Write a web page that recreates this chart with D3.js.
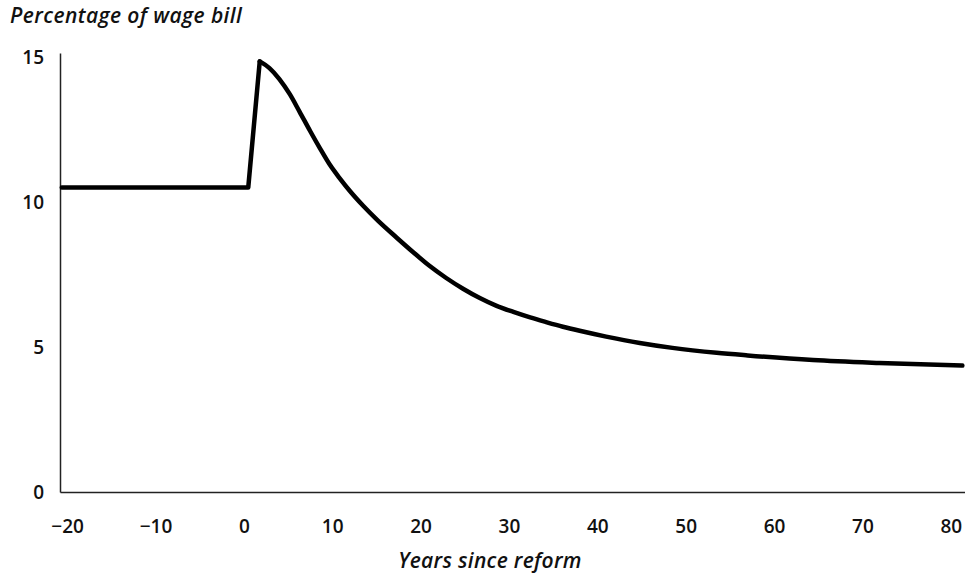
<!DOCTYPE html>
<html>
<head>
<meta charset="utf-8">
<script src="https://cdn.jsdelivr.net/npm/d3@7"></script>
<style>
  body { margin: 0; background: #fff; }
  svg { display: block; }
</style>
</head>
<body>
<div id="chart"></div>
<script>
// data
const years = [-20.6, 0.5, 1.8, 2.9, 4.0, 5.2, 6.3, 7.5, 8.6, 9.7, 10.9, 12, 13.5, 15.2, 17.3, 19.2, 21, 22.9, 24.8, 26.7, 28.6, 30.5, 32.4, 34.2, 36.1, 38, 41, 44.8, 48.5, 53.5, 57, 64.4, 71.9, 81.3];
const values = [10.5, 10.5, 14.85, 14.62, 14.25, 13.72, 13.12, 12.45, 11.86, 11.3, 10.8, 10.38, 9.87, 9.35, 8.77, 8.26, 7.8, 7.38, 7.01, 6.69, 6.42, 6.21, 6.02, 5.86, 5.7, 5.56, 5.36, 5.14, 4.97, 4.8, 4.71, 4.55, 4.45, 4.36];
const xTicks = [-20, -10, 0, 10, 20, 30, 40, 50, 60, 70, 80];
const yTicks = [0, 5, 10, 15];
const PEAK = 2; // index where the step ends and the decay starts

const WIDTH = 965;
const HEIGHT = 576;
const FONT = '"Open Sans", "Noto Sans", sans-serif';

const svg = d3.select('#chart')
  .append('svg')
    .attr('width', WIDTH)
    .attr('height', HEIGHT);

const x = d3.scaleLinear()
  .domain([-20.8, 81.6])
  .range([60, 965]);

const y = d3.scaleLinear()
  .domain([0, 15.14])
  .range([492, 53]);

const xAxis = svg.append('g')
  .attr('transform', `translate(0, ${y(0)})`)
  .call(d3.axisBottom(x).tickValues(xTicks).tickSize(0).tickSizeOuter(0).tickPadding(28));

const yAxis = svg.append('g')
  .attr('transform', `translate(${x.range()[0]}, 0)`)
  .call(d3.axisLeft(y).tickValues(yTicks).tickSize(0).tickSizeOuter(0).tickPadding(16));

[xAxis, yAxis].forEach(g => {
  g.select('.domain').attr('stroke', '#222').attr('stroke-width', 1.5);
  g.selectAll('text')
    .attr('fill', '#111')
    .style('font-family', FONT)
    .style('font-weight', 600)
    .style('font-size', '19px');
});

const pts = years.map((yr, i) => [yr, values[i]]);

const line = d3.line()
  .x(d => x(d[0]))
  .y(d => y(d[1]));

// the step up is straight, the decay is smooth
svg.append('path')
  .datum(pts.slice(0, PEAK + 1))
  .attr('fill', 'none')
  .attr('stroke', '#000')
  .attr('stroke-width', 4.5)
  .attr('stroke-linejoin', 'round')
  .attr('stroke-linecap', 'round')
  .attr('d', line.curve(d3.curveLinear));

svg.append('path')
  .datum(pts.slice(PEAK))
  .attr('fill', 'none')
  .attr('stroke', '#000')
  .attr('stroke-width', 4.5)
  .attr('stroke-linejoin', 'round')
  .attr('stroke-linecap', 'round')
  .attr('d', line.curve(d3.curveMonotoneX));

svg.append('text')
  .attr('x', 10)
  .attr('y', 23)
  .attr('fill', '#111')
  .style('font-family', FONT)
  .style('font-style', 'italic')
  .style('font-weight', 600)
  .style('font-size', '21px')
  .style('letter-spacing', '0.4px')
  .text('Percentage of wage bill');

svg.append('text')
  .attr('x', 490)
  .attr('y', 568)
  .attr('text-anchor', 'middle')
  .attr('fill', '#111')
  .style('font-family', FONT)
  .style('font-style', 'italic')
  .style('font-weight', 600)
  .style('font-size', '21px')
  .style('letter-spacing', '0.3px')
  .text('Years since reform');
</script>
</body>
</html>
